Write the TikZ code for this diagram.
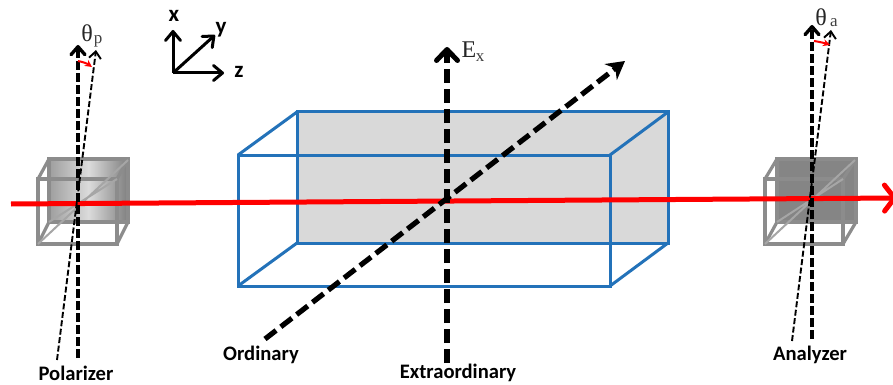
\documentclass[tikz,border=0pt]{standalone}
\usepackage{fontspec}
\setmainfont{Carlito}
\newfontfamily\serifgr{Liberation Serif}
\usetikzlibrary{arrows.meta}
\definecolor{boxblue}{HTML}{2372B9}
\definecolor{boxfill}{HTML}{D9D9D9}
\definecolor{cubeline}{HTML}{8C8C8C}
\tikzset{
  x=1pt,y=-1pt,
  lbl/.style={font=\bfseries\fontsize{20.6}{20.6}\selectfont,text=black,inner sep=0pt},
  axlbl/.style={font=\bfseries\fontsize{23}{23}\selectfont,inner sep=0pt},
  sym/.style={font=\serifgr\fontsize{24}{24}\selectfont,inner sep=0pt,text=black!85},
  subsym/.style={font=\serifgr\fontsize{17}{17}\selectfont,inner sep=0pt,text=black!75},
  boxline/.style={draw=boxblue,line width=3pt,line join=miter},
  cubeedge/.style={draw=cubeline,line width=3.2pt},
  cubediag/.style={draw=black!35,line width=2pt},
  thickdash/.style={draw=black,line width=5.2pt,dash pattern=on 14pt off 6pt,-{Straight Barb[round,length=11pt,width=21pt,line width=5pt]}},
  meddash/.style={draw=black,line width=3.6pt,dash pattern=on 9pt off 3pt,-{Straight Barb[round,length=8pt,width=14pt,line width=3.4pt]}},
  thindash/.style={draw=black,line width=1.9pt,dash pattern=on 6pt off 2.5pt,-{Straight Barb[length=7pt,width=12pt,line width=1.9pt]}},
  axis/.style={draw=black,line width=3pt,-{Straight Barb[round,length=9pt,width=15pt,line width=3pt]}},
  angle/.style={draw=red,line width=2pt,-{Stealth[length=7pt,width=7pt]}},
  beam/.style={draw=red,line width=5pt,-{Straight Barb[round,length=10pt,width=26pt,line width=5pt]}},
  diagarrow/.style={draw=black,line width=5.2pt,dash pattern=on 14pt off 6pt,-{Stealth[length=18pt,width=20pt]}},
}
\begin{document}
\begin{tikzpicture}
\useasboundingbox (0,0) rectangle (893,385);
\fill[white] (0,0) rectangle (893,385);

% crystal
\fill[boxfill] (297,112) rectangle (668,243);
\draw[boxline] (297,112) rectangle (668,243);
\draw[boxline] (238,155) rectangle (610,286);
\draw[boxline] (238,155)--(297,112) (610,155)--(668,112) (238,286)--(297,243) (610,286)--(668,243);

% polarizer cube
\path[left color=black!38,right color=black!50,middle color=black!14] (49,159) rectangle (128,222);
\draw[cubeedge] (49,159) rectangle (128,222);
\draw[cubeedge] (38,179) rectangle (117,244);
\draw[cubeedge] (38,179)--(49,159) (117,179)--(128,159) (38,244)--(49,222) (117,244)--(128,222);
\draw[cubediag] (38,244)--(128,160) (49,222)--(117,179);

% analyzer cube
\fill[black!48] (777,159) rectangle (856,222);
\draw[cubeedge] (777,159) rectangle (856,222);
\draw[cubeedge] (765,179) rectangle (843,244);
\draw[cubeedge] (765,179)--(777,159) (843,179)--(856,159) (765,244)--(777,222) (843,244)--(856,222);
\draw[cubediag] (765,244)--(855,160) (777,222)--(843,179);

% beam
\coordinate (beamA) at (11,204);
\coordinate (beamB) at (897,198);
\draw[beam] (beamA)--(beamB);

% central axes
\coordinate (exS) at (447,363);
\coordinate (exE) at (447,47);
\coordinate (orS) at (265,339);
\coordinate (orE) at (625,61);
\draw[thickdash] (exS)--(exE);
\draw[diagarrow] (orS)--(orE);

% polarizer axes
\coordinate (pS) at (78,358);
\coordinate (pE) at (78,45);
\coordinate (ptS) at (57,360);
\coordinate (ptE) at (96,50);
\coordinate (paS) at (78,61);
\coordinate (paE) at (92,67);
\draw[meddash] (pS)--(pE);
\draw[thindash] (ptS)--(ptE);
\draw[angle] (paS) to[bend left=12] (paE);

% analyzer axes
\coordinate (aS) at (812,339);
\coordinate (aE) at (812,25);
\coordinate (atS) at (792,341);
\coordinate (atE) at (831,30);
\coordinate (aaS) at (814,41);
\coordinate (aaE) at (830,45);
\draw[meddash] (aS)--(aE);
\draw[thindash] (atS)--(atE);
\draw[angle] (aaS) to[bend left=5] (aaE);

% coordinate triad
\coordinate (o) at (173,73);
\coordinate (xe) at (173,30);
\coordinate (ye) at (215,35);
\coordinate (ze) at (224,73);
\draw[axis] (o)--(xe);
\draw[axis] (o)--(ye);
\draw[axis] (o)--(ze);
\node[axlbl] (xl) at (174,16) {x};
\node[axlbl] (yl) at (221,30) {y};
\node[axlbl] (zl) at (239,72) {z};

% labels
\node[sym] (tp) at (87,33) {θ};
\node[subsym] (tpi) at (98,41) {p};
\node[sym] (ta) at (821,17) {θ};
\node[subsym] (tai) at (834,23) {a};
\node[sym] (ex) at (469,50) {E};
\node[subsym] (exi) at (480,58) {x};
\node[lbl] (polar) at (76,373) {Polarizer};
\node[lbl] (ord) at (261,355) {Ordinary};
\node[lbl] (extra) at (458,373) {Extraordinary};
\node[lbl] (ana) at (810,355) {Analyzer};
\end{tikzpicture}
\end{document}
